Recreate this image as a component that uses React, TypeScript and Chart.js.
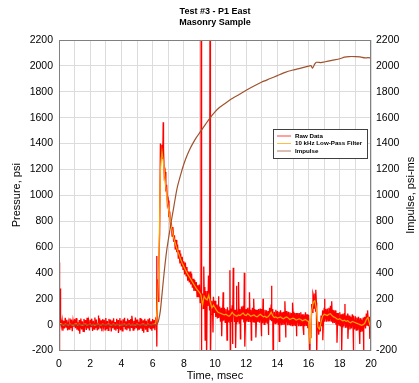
import React, { useEffect, useRef } from 'react';
import { Chart, registerables } from 'chart.js';

Chart.register(...registerables);

const FONT = '"Liberation Sans", Arial, Helvetica, sans-serif';

const titleLines = ['Test #3 - P1 East', 'Masonry Sample'];
const xAxisTitle = 'Time, msec';
const yAxisTitle = 'Pressure, psi';
const y2AxisTitle = 'Impulse, psi-ms';
const seriesNames = ['Raw Data', '10 kHz Low-Pass Filter', 'Impulse'];
const seriesColors = ['#FF0000', '#FFA500', '#A0522D'];

const xRange = [0, 20];
const xStep = 1;
const yRange = [-200, 2200];
const yStep = 200;

// sampling intervals, msec
const rawStep = 0.05;
const filteredStep = 0.1;

// Raw pressure, psi, one value per 0.05 msec (t = 0 .. 20), one row per msec
const rawPsi = [
  20, -38, 45, -12, 33, -47, 28, -30, 52, -20, 38, -44, 15, -35, 48, -25, 40, -50, 30, -15,
  42, -28, 50, -40, 18, -46, 35, -22, 47, -38, 25, -52, 44, -18, 36, -42, 53, -30, 22, -45,
  38, -20, 46, -48, 30, -35, 55, -25, 40, -44, 14, -38, 49, -30, 33, -50, 42, -16, 37, -41,
  51, -33, 27, -45, 44, -22, 39, -53, 31, -28, 48, -40, 20, -46, 45, -34, 36, -24, 50, -43,
  32, -48, 41, -18, 53, -37, 26, -44, 47, -30, 35, -51, 43, -21, 38, -42, 29, -36, 54, -27,
  40, -45, 22, -39, 50, -31, 44, -49, 34, -20, 46, -40, 30, -52, 41, -26, 48, -35, 25, -47,
  43, -30, 36, -44, 50, 60, 350, 180, 480, 700, 1400, 1300, 1390, 1280, 1360, 1150, 1180, 1030, 1080, 930,
  960, 830, 875, 745, 790, 685, 755, 640, 690, 580, 655, 560, 620, 510, 575, 472, 550, 450, 525, 427,
  490, 387, 480, 377, 445, 340, 410, 325, 410, 310, 395, 285, 355, 260, 345, 260, 330, 217, 305, 212,
  310, 170, 280, 110, 240, 125, 290, 135, 260, 115, 260, 145, 310, 110, 230, 80, 185, 80, 215, 90,
  185, 60, 155, 47, 155, 52, 140, 22, 130, 32, 140, 32, 130, 17, 120, 20, 135, 17, 110, 10,
  125, 20, 150, 42, 140, 20, 115, 7, 120, 20, 120, 12, 120, 20, 140, 40, 145, 17, 125, 17,
  120, 22, 130, 20, 130, 25, 115, 12, 130, 22, 120, 15, 115, 2, 115, 20, 120, 15, 125, 20,
  120, 10, 105, 2, 115, 15, 110, 7, 105, 7, 130, 35, 155, 27, 120, 2, 100, 7, 115, 10,
  105, 2, 100, 2, 110, -5, 95, -3, 100, 5, 105, 2, 105, -5, 100, 0, 95, -8, 90, -8,
  100, -8, 90, -10, 90, -8, 90, -13, 90, -8, 95, -10, 80, -23, 80, -13, 95, -10, 80, -28,
  75, -115, -100, -80, 160, 95, 230, 128, 240, 105, 170, -10, 25, -77, 20, -52, 70, -13, 110, 22,
  130, 22, 120, 22, 125, 30, 130, 27, 145, 27, 115, 10, 110, 12, 110, 0, 90, -13, 90, -3,
  95, -15, 80, -18, 85, -13, 85, -25, 70, -23, 85, -20, 70, -38, 60, -30, 80, -23, 70, -38,
  65, -43, 55, -43, 60, -43, 50, -57, 40, -52, 55, -40, 60, -30, 85, -3, 110, -13, 60, -65,
  -60,
];

// Isolated spikes in the raw record
const spikeTimes = [
  0.02, 0.04, 0.07, 1.33, 2.52, 3.81, 4.67, 5.43, 6.26, 6.28,
  6.68, 9.11, 9.13, 9.28, 9.37, 9.46, 9.58, 9.68, 9.69, 9.71,
  9.73, 9.87, 10.22, 10.43, 10.52, 10.77, 10.96, 10.98, 11.12, 11.17,
  11.32, 11.38, 11.51, 11.63, 11.88, 11.92, 12.21, 12.33, 12.48, 12.62,
  12.97, 13.08, 13.42, 13.62, 13.72, 14.12, 14.48, 14.53, 14.97, 15.22,
  15.68, 16.08, 16.28, 16.46, 16.52, 16.91, 17.02, 17.48, 17.82, 18.12,
  18.33, 18.52, 18.86, 19.28, 19.52, 19.76, 19.92,
];
const spikeValues = [
  480, -250, 280, -70, 70, -65, 68, -62, 530, -170,
  1565, 2500, -300, 450, -120, -300, 380, 2500, -300, 2500,
  -300, -60, 220, -90, 250, -120, 420, -220, -150, 440,
  -180, 300, 330, -110, 400, -170, 250, -120, 200, -100,
  -90, 200, -80, 300, -220, -130, 180, -100, 170, -90,
  -80, -250, 240, 270, -230, -120, 200, 180, -140, -200,
  160, -110, -200, -150, -200, 110, -110,
];

// 10 kHz low-pass filtered pressure, psi, one value per 0.1 msec
const filteredPsi = [
  5, 8, 2, -3, 4, 1, -2, 3, 0, -4,
  2, 5, -1, 3, 0, -3, 2, 4, -2, 1,
  3, -1, 2, -3, 1, 4, 0, -2, 3, 1,
  -1, 2, 4, -2, 0, 3, -1, 2, 1, -3,
  2, 0, 3, -2, 1, 4, -1, 2, 0, -2,
  3, 1, -1, 2, 4, 0, -2, 3, 1, -1,
  2, 3, 10, 120, 450, 1200, 1340, 1250, 1120, 1000,
  910, 830, 760, 700, 650, 610, 570, 540, 505, 475,
  450, 425, 400, 380, 360, 340, 320, 300, 280, 265,
  250, 230, 150, 220, 200, 190, 230, 170, 130, 150,
  130, 110, 95, 90, 85, 80, 75, 80, 70, 65,
  75, 95, 80, 70, 65, 75, 70, 80, 90, 75,
  70, 85, 75, 65, 70, 75, 65, 60, 70, 80,
  70, 60, 65, 55, 60, 75, 95, 70, 55, 60,
  50, 55, 60, 50, 45, 55, 60, 50, 40, 45,
  50, 45, 35, 40, 45, 40, 30, 35, 40, 30,
  25, -150, 110, 170, 185, 120, -20, -35, 20, 65,
  80, 75, 70, 80, 85, 70, 60, 55, 45, 40,
  45, 35, 30, 35, 25, 30, 20, 15, 25, 20,
  15, 10, 5, 0, -5, 0, 10, 40, 55, 10,
  -30,
];

// Impulse, psi-ms
const impulseTimes = [
  0, 6.2, 6.3, 6.4, 6.5, 6.6, 6.7, 6.8, 6.9, 7.0,
  7.1, 7.2, 7.3, 7.4, 7.5, 7.6, 7.8, 8.0, 8.2, 8.4,
  8.6, 8.8, 9.0, 9.2, 9.4, 9.6, 9.8, 10.0, 10.3, 10.6,
  11.0, 11.5, 12.0, 12.5, 13.0, 13.5, 14.0, 14.5, 15.0, 15.5,
  16.0, 16.15, 16.25, 16.4, 16.5, 16.8, 17.0, 17.5, 18.0, 18.3,
  18.6, 19.0, 19.3, 19.6, 19.8, 20.0,
];
const impulseValues = [
  0, 0, 5, 40, 110, 230, 355, 470, 570, 650,
  725, 800, 870, 940, 1010, 1070, 1160, 1240, 1305, 1360,
  1405, 1445, 1480, 1515, 1550, 1585, 1615, 1645, 1680, 1705,
  1740, 1775, 1812, 1845, 1875, 1900, 1925, 1950, 1968, 1983,
  1998, 2003, 1982, 2015, 2028, 2025, 2030, 2043, 2055, 2068,
  2072, 2072, 2070, 2062, 2063, 2062,
];

const timeAt = (i: number, step: number) => Math.round(i * step * 1000) / 1000;

const rawPoints = rawPsi
  .map((y, i) => ({ x: timeAt(i, rawStep), y }))
  .concat(spikeTimes.map((x, i) => ({ x, y: spikeValues[i] })))
  .sort((a, b) => a.x - b.x);
const filteredPoints = filteredPsi.map((y, i) => ({ x: timeAt(i, filteredStep), y }));
const impulsePoints = impulseTimes.map((x, i) => ({ x, y: impulseValues[i] }));

const overlayPlugin = {
  id: 'overlay',
  afterDatasetsDraw(chart: any) {
    const { ctx, chartArea: a } = chart;
    ctx.save();
    ctx.strokeStyle = '#808080';
    ctx.lineWidth = 1;
    const L = Math.round(a.left) + 0.5;
    const T = Math.round(a.top) + 0.5;
    const R = Math.round(a.right) - 0.5;
    const B = Math.round(a.bottom) - 0.5;
    ctx.strokeRect(L, T, R - L, B - T);
    ctx.restore();
  },
  afterDraw(chart: any) {
    const { ctx, chartArea: a } = chart;
    ctx.save();
    ctx.fillStyle = '#000';
    ctx.font = `11px ${FONT}`;
    ctx.textAlign = 'center';
    ctx.textBaseline = 'middle';
    ctx.translate(411, (a.top + a.bottom) / 2);
    ctx.rotate(-Math.PI / 2);
    ctx.fillText(y2AxisTitle, 0, 0);
    ctx.restore();

    ctx.save();
    const bx = 273.5, by = 129.5, bw = 94, bh = 29;
    ctx.fillStyle = '#FFFFFF';
    ctx.fillRect(bx, by, bw, bh);
    ctx.strokeStyle = '#404040';
    ctx.lineWidth = 1;
    ctx.strokeRect(bx, by, bw, bh);
    ctx.font = `bold 6.2px ${FONT}`;
    ctx.textAlign = 'left';
    ctx.textBaseline = 'middle';
    chart.data.datasets.forEach((ds: any, i: number) => {
      const y = 136 + i * 7.5;
      ctx.strokeStyle = ds.borderColor;
      ctx.globalAlpha = 0.75;
      ctx.lineWidth = 1;
      ctx.beginPath();
      ctx.moveTo(277, y);
      ctx.lineTo(291, y);
      ctx.stroke();
      ctx.globalAlpha = 1;
      ctx.fillStyle = '#000';
      ctx.fillText(ds.label, 295, y);
    });
    ctx.restore();
  },
};

export default function App() {
  const canvasRef = useRef<HTMLCanvasElement | null>(null);

  useEffect(() => {
    if (!canvasRef.current) return;
    const tickFont = { size: 10.5, family: FONT };
    const plainLabel = (v: any) => String(v);
    const chart = new Chart(canvasRef.current, {
      type: 'line',
      data: {
        datasets: [
          {
            label: seriesNames[0],
            data: rawPoints,
            borderColor: seriesColors[0],
            borderWidth: 1.3,
            pointRadius: 0,
            tension: 0,
            order: 3,
            yAxisID: 'y',
            clip: 0,
          },
          {
            label: seriesNames[1],
            data: filteredPoints,
            borderColor: seriesColors[1],
            borderWidth: 1.2,
            pointRadius: 0,
            tension: 0,
            order: 2,
            yAxisID: 'y',
            clip: 0,
          },
          {
            label: seriesNames[2],
            data: impulsePoints,
            borderColor: seriesColors[2],
            borderWidth: 1.2,
            pointRadius: 0,
            tension: 0.2,
            order: 1,
            yAxisID: 'y2',
            clip: 0,
          },
        ] as any,
      },
      options: {
        animation: false,
        responsive: true,
        maintainAspectRatio: false,
        events: [],
        layout: { padding: 0 },
        plugins: {
          legend: { display: false },
          tooltip: { enabled: false },
          title: {
            display: true,
            text: titleLines,
            fullSize: false,
            color: '#000',
            font: { size: 9, weight: 'bold', family: FONT, lineHeight: 11 / 9 },
            padding: { top: 6.5, bottom: 11.5 },
          },
        },
        scales: {
          x: {
            type: 'linear',
            min: xRange[0],
            max: xRange[1],
            ticks: {
              stepSize: xStep,
              autoSkip: false,
              maxRotation: 0,
              padding: 7,
              color: '#000',
              font: tickFont,
              callback: (v: any) => (Number(v) % 2 === 0 ? String(v) : ''),
            },
            grid: { color: '#DCDCDC', drawTicks: false, lineWidth: 1 },
            border: { display: false },
            title: {
              display: true,
              text: xAxisTitle,
              color: '#000',
              font: { size: 11, family: FONT },
              padding: { top: 0, bottom: 0 },
            },
            afterFit: (s: any) => {
              s.height = 32.5;
            },
          },
          y: {
            type: 'linear',
            position: 'left',
            min: yRange[0],
            max: yRange[1],
            ticks: { stepSize: yStep, padding: 6, color: '#000', font: tickFont, callback: plainLabel },
            grid: { color: '#DCDCDC', drawTicks: false, lineWidth: 1 },
            border: { display: false },
            title: {
              display: true,
              text: yAxisTitle,
              color: '#000',
              font: { size: 11, family: FONT },
              padding: { top: 10.5, bottom: 0 },
            },
            afterFit: (s: any) => {
              s.width = 59;
            },
          },
          y2: {
            type: 'linear',
            position: 'right',
            min: yRange[0],
            max: yRange[1],
            ticks: { stepSize: yStep, padding: 5, color: '#000', font: tickFont, callback: plainLabel },
            grid: { drawOnChartArea: false, drawTicks: false },
            border: { display: false },
            afterFit: (s: any) => {
              s.width = 48;
            },
          },
        },
      } as any,
      plugins: [overlayPlugin],
    });
    return () => chart.destroy();
  }, []);

  return (
    <div style={{ position: 'absolute', left: 0, top: 0, width: 419, height: 383, background: '#fff' }}>
      <canvas ref={canvasRef} />
    </div>
  );
}
